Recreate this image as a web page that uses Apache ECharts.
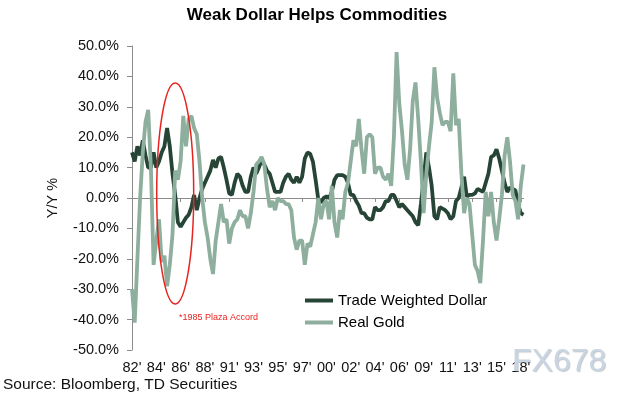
<!DOCTYPE html>
<html>
<head>
<meta charset="utf-8">
<title>Weak Dollar Helps Commodities</title>
<script src="https://cdn.jsdelivr.net/npm/echarts@6/dist/echarts.min.js"></script>
<style>
  html, body { margin: 0; padding: 0; background: #fff; }
  #chart { width: 640px; height: 400px; }
</style>
</head>
<body>
<div id="chart"></div>
<script>
// quarterly points, 1982 Q1 .. 2018 Q2
const quarters = [];
for (let y = 1982; y <= 2018; y++) {
  for (let q = 1; q <= 4; q++) quarters.push(y + ' Q' + q);
}
quarters.length = 146;

// one label every 9 quarters
const yearLabels = ["82'", "84'", "86'", "88'", "91'", "93'", "95'", "97'", "00'",
  "02'", "04'", "06'", "09'", "11'", "13'", "15'", "18'"];

const tradeWeightedDollar = [
  15, 12, 17, 14, 19, 14, 10, 10, 15, 10, 12, 15, 17, 23, 17, 8, 1, -8, -9.5, -8,
  -6.5, -5.5, -3, 1, -4, 0, 3, 5, 7, 9, 12.5, 10, 13, 13.5, 10, 6, 1.5, 1, 5, 8,
  7, 4, 2, 2, 7, 10, 8, 10, 12.5, 11, 9, 8, 5, 2, 2, 2, 5, 7, 8, 6,
  5, 7, 5, 7, 13, 15, 14.5, 12, 6, -0.5, -1.5, 0, 0.5, 0, 2, 6, 7.5, 7.5, 7.5, 7,
  5, 1, 1, -1, -2.5, -5, -5, -6.5, -7, -7, -3, -4, -4, -3, -1, -1, 1, 1, -1, -3,
  -2, -3, -4, -5, -6, -8, -9, -2, 6, 15, 10, 4, -6, -7, -3, -3.5, -4, -5, -7, -6,
  -1, 0, 3.5, 7, 0.5, 1, 1, 1.5, 3, 2.5, 2, 5, 8, 13.5, 14, 16, 13, 9, 5, 2,
  3.5, 3, 2.5, -2, -5, -5.5
];

const realGold = [
  -30, -41, -20, 0, 15, 25, 29, 10, -22, -14, -7, -21, -19, -29, -22, -12, 9, 6, 12, 27,
  17, 26, 27, 23, 21, 12, 0, -8, -13, -20, -25, -14, -8, -2, -8, -7, -15, -10, -8, -7,
  -4, -6, -6, -10, -5, 2, 11, 12, 13.5, 11, 3, -3, -1, -4, 0, -1, -1, -2, -2, -4,
  -13, -17, -14, -14, -22, -15, -16, -12, -8, 0, -7, -2, -1, -7, 4, -8, -13, -4, -7, 2,
  5, 12, 19, 17, 26, 16, 8, 20, 21, 20, 8, 10, 10, 7, 6, 8, 4, 20, 48, 31,
  22, 11, 6, 16, 32, 38, 26, 12, -5, 8, 17, 25, 43, 33, 28, 24, 25, 25, 22, 41,
  24, 26, 8, -5, 0, -2, -12, -22, -24, -28, -14, 2, -6, 2, -8, -14, -7, 1, 14, 20,
  12, 1, -1, -7, 4, 11
];

const font = 'Arial, "Liberation Sans", sans-serif';
const axisGrey = '#8c8c8c';
const dollarColor = '#264536';
const goldColor = '#8eae9e';

const chart = echarts.init(document.getElementById('chart'));

const option = {
  animation: false,
  backgroundColor: '#fff',
  textStyle: { fontFamily: font },
  grid: { left: 132, right: 116.5, top: 46, bottom: 50 },
  legend: {
    data: ['Trade Weighted Dollar', 'Real Gold'],
    orient: 'vertical',
    left: 305,
    top: 293,
    padding: 0,
    icon: 'rect',
    itemWidth: 28,
    itemHeight: 4,
    itemGap: 7,
    selectedMode: false,
    textStyle: { fontFamily: font, fontSize: 15, color: '#000' }
  },
  xAxis: [
    {
      type: 'category',
      data: quarters,
      boundaryGap: false,
      position: 'bottom',
      axisLine: { show: false, onZero: false },
      axisTick: { show: false },
      axisLabel: {
        interval: 8,
        margin: 10,
        fontFamily: font,
        fontSize: 14.5,
        color: '#111',
        formatter: (v, i) => (i % 9 === 0 ? yearLabels[i / 9] : '')
      },
      splitLine: { show: false }
    },
    {
      type: 'category',
      data: quarters,
      boundaryGap: false,
      position: 'top',
      axisLine: { show: true, onZero: true, lineStyle: { color: axisGrey, width: 1 } },
      axisTick: { show: true, interval: 8, inside: true, length: 4, lineStyle: { color: axisGrey } },
      axisLabel: { show: false },
      splitLine: { show: false }
    }
  ],
  yAxis: {
    type: 'value',
    min: -50,
    max: 50,
    interval: 10,
    name: 'Y/Y %',
    nameLocation: 'middle',
    nameRotate: 90,
    nameGap: 72,
    nameTextStyle: { fontFamily: font, fontSize: 14.5, color: '#111' },
    axisLine: { show: true, onZero: false, lineStyle: { color: axisGrey, width: 1 } },
    axisTick: { show: true, length: 5, lineStyle: { color: axisGrey } },
    axisLabel: {
      margin: 13,
      fontFamily: font,
      fontSize: 14.5,
      color: '#111',
      formatter: v => v.toFixed(1) + '%'
    },
    splitLine: { show: false }
  },
  series: [
    {
      name: 'Trade Weighted Dollar',
      type: 'line',
      data: tradeWeightedDollar,
      showSymbol: false,
      lineStyle: { color: dollarColor, width: 3.8 },
      itemStyle: { color: dollarColor }
    },
    {
      name: 'Real Gold',
      type: 'line',
      data: realGold,
      showSymbol: false,
      lineStyle: { color: goldColor, width: 3.8 },
      itemStyle: { color: goldColor }
    }
  ]
};

chart.setOption(option);

// annotation ring around the Plaza Accord period, anchored on the axes
const ringCenter = chart.convertToPixel({ xAxisIndex: 0, yAxisIndex: 0 }, ['1986 Q1', 1.5]);

chart.setOption({
  graphic: [
    {
      type: 'text',
      x: 317,
      y: 15,
      style: {
        text: 'Weak Dollar Helps Commodities',
        fill: '#000',
        font: 'bold 17px ' + font,
        textAlign: 'center',
        textVerticalAlign: 'middle'
      }
    },
    {
      type: 'ellipse',
      shape: { cx: ringCenter[0], cy: ringCenter[1], rx: 18.5, ry: 110.5 },
      style: { fill: 'none', stroke: '#e8231f', lineWidth: 1.5 },
      z: 100
    },
    {
      type: 'text',
      x: 179,
      y: 318,
      style: {
        text: '*1985 Plaza Accord',
        fill: '#e8231f',
        font: '9px ' + font,
        textVerticalAlign: 'middle'
      },
      z: 100
    },
    {
      type: 'text',
      x: 3,
      y: 385,
      style: {
        text: 'Source: Bloomberg, TD Securities',
        fill: '#111',
        font: '15.5px ' + font,
        textVerticalAlign: 'middle'
      },
      z: 100
    },
    {
      type: 'text',
      x: 512,
      y: 362,
      style: {
        text: 'FX678',
        fill: '#c9d6e2',
        font: '32px ' + font,
        textVerticalAlign: 'middle',
        textShadowColor: 'rgba(120,130,140,0.45)',
        textShadowOffsetX: 1,
        textShadowOffsetY: 1,
        textShadowBlur: 1
      },
      z: 100
    }
  ]
});
</script>
</body>
</html>
